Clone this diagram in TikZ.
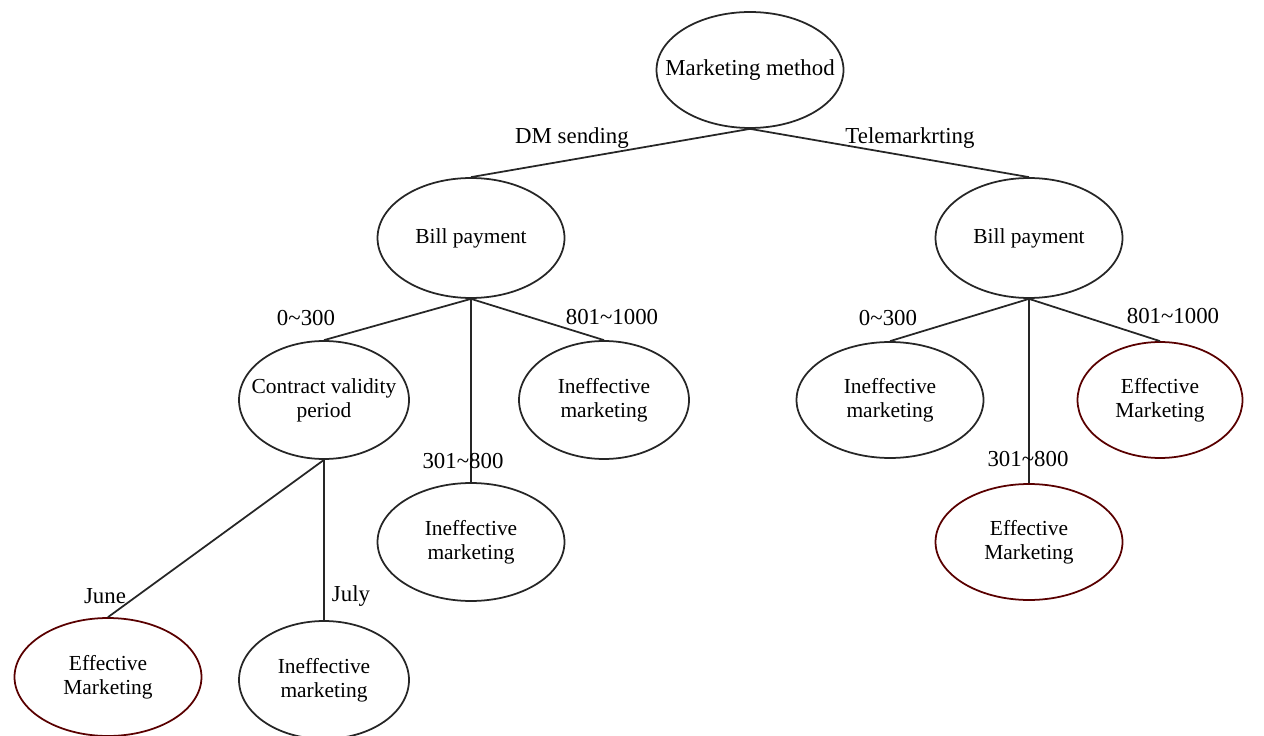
\documentclass[tikz,border=0pt]{standalone}
\usepackage{fontspec}
\setmainfont{Liberation Serif}
\usetikzlibrary{shapes.geometric}

\begin{document}
\begin{tikzpicture}[x=0.02cm, y=-0.02cm,
		every node/.style={font=\fontsize{13}{14.5}\selectfont},
		bubble/.style={ellipse, draw=black!85, line width=1pt, align=center, inner sep=-2cm,
			minimum width=3.4cm, minimum height=2.36cm, font=\fontsize{12.2}{13.8}\selectfont},
		wide/.style={minimum width=3.74cm},
		good/.style={bubble, wide, draw=red!35!black},
		branch/.style={draw=black!85, line width=1pt}]
		\useasboundingbox (0,0) rectangle (1264,736);
		
		% root and second level
		\node[bubble, wide, minimum height=2.32cm, font=\fontsize{13}{14.5}\selectfont] (mm) at (750,70) {Marketing method};
		\node[bubble, wide, minimum height=2.4cm] (billL) at (471,238) {Bill payment};
		\node[bubble, wide, minimum height=2.4cm] (billR) at (1029,238) {Bill payment};
		
		% DM sending side
		\node[bubble] (contract) at (324,400) {Contract validity\\period};
		\node[bubble] (ineffL1) at (604,400) {Ineffective\\marketing};
		\node[bubble, wide] (ineffL2) at (471,542) {Ineffective\\marketing};
		\node[good] (effJune) at (108,677) {Effective\\Marketing};
		\node[bubble] (ineffJuly) at (324,680) {Ineffective\\marketing};
		
		% Telemarketing side
		\node[bubble, wide, minimum height=2.32cm] (ineffR) at (890,400) {Ineffective\\marketing};
		\node[good, minimum width=3.3cm, minimum height=2.32cm] (effR1) at (1160,400) {Effective\\Marketing};
		\node[good, minimum height=2.32cm] (effR2) at (1029,542) {Effective\\Marketing};
		
		% branches
		\draw[branch] (mm.south) -- (billL.north);
		\draw[branch] (mm.south) -- (billR.north);
		\draw[branch] (billL.south) -- (contract.north);
		\draw[branch] (billL.south) -- (ineffL2.north);
		\draw[branch] (billL.south) -- (ineffL1.north);
		\draw[branch] (contract.south) -- (effJune.north);
		\draw[branch] (contract.south) -- (ineffJuly.north);
		\draw[branch] (billR.south) -- (ineffR.north);
		\draw[branch] (billR.south) -- (effR2.north);
		\draw[branch] (billR.south) -- (effR1.north);
		
		% branch labels
		\node (lblDM) at (572,138) {DM sending};
		\node (lblTele) at (910,138) {Telemarkrting};
		\node (lblL1) at (306,318) {0\textasciitilde 300};
		\node (lblL2) at (463,461) {301\textasciitilde 800};
		\node (lblL3) at (612,317) {801\textasciitilde 1000};
		\node (lblJune) at (105,596) {June};
		\node (lblJuly) at (351,596) {July};
		\node (lblR1) at (888,318) {0\textasciitilde 300};
		\node (lblR2) at (1028,459) {301\textasciitilde 800};
		\node (lblR3) at (1173,316) {801\textasciitilde 1000};
		
	\end{tikzpicture}
\end{document}
